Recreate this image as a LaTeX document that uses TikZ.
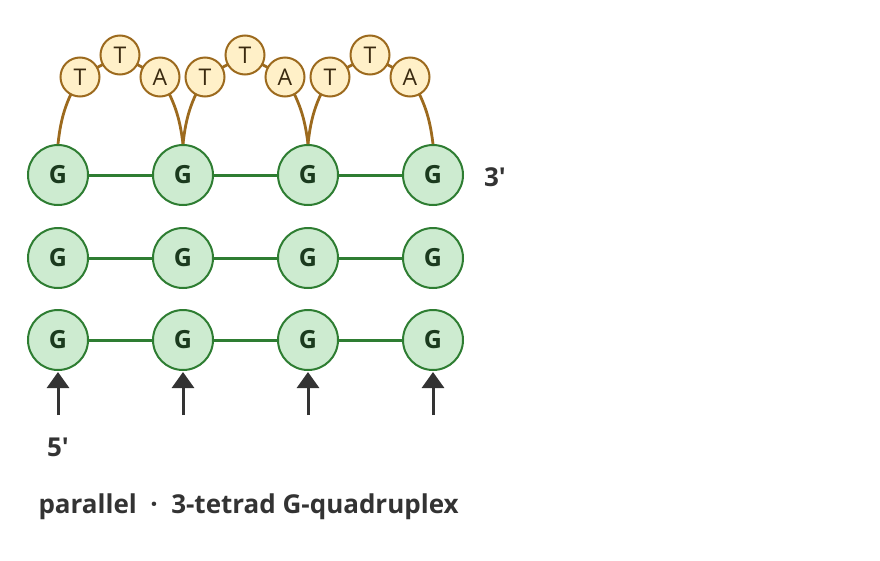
\documentclass[tikz,border=0pt]{standalone}
\usepackage{fontspec}
\setmainfont{Open Sans}
\usetikzlibrary{arrows.meta}
\definecolor{gfill}{HTML}{CDEBD0}
\definecolor{gline}{HTML}{2E7D32}
\definecolor{gtext}{HTML}{1B3A1E}
\definecolor{lfill}{HTML}{FFF0C8}
\definecolor{lline}{HTML}{9C6A1E}
\definecolor{ltext}{HTML}{3A2A10}
\definecolor{dk}{HTML}{333333}
\begin{document}
\begin{tikzpicture}[x=1pt,y=-1pt,
 gn/.style={circle,draw=gline,line width=2pt,fill=gfill,minimum size=60pt,inner sep=0pt,font=\fontsize{25}{25}\selectfont\bfseries,text=gtext},
 ln/.style={circle,draw=lline,line width=2pt,fill=lfill,minimum size=39pt,inner sep=0pt,font=\fontsize{23}{23}\selectfont,text=ltext},
 gl/.style={draw=gline,line width=3pt},
 ll/.style={draw=lline,line width=2.8pt},
 ar/.style={draw=dk,line width=3pt,-{Triangle[length=16pt,width=22pt]}},
 lab/.style={font=\fontsize{26}{26}\selectfont\bfseries,text=dk}]
\useasboundingbox (0,0) rectangle (880,560);
\foreach \r/\y in {a/175,b/258,c/340}{
 \foreach \i/\x in {1/58,2/183,3/308,4/433}{
  \node[gn] (g\r\i) at (\x,\y) {G};}
 \draw[gl] (g\r1) -- (g\r2) (g\r2) -- (g\r3) (g\r3) -- (g\r4);}
\draw[ll] (ga1.north) to[bend left=12] (80,77);
\draw[ll] (160,77) to[bend left=12] (ga2.north);
\draw[ll] (ga2.north) to[bend left=12] (205,77);
\draw[ll] (285,77) to[bend left=12] (ga3.north);
\draw[ll] (ga3.north) to[bend left=12] (330,77);
\draw[ll] (410,77) to[bend left=12] (ga4.north);
\draw[ll] (80,77) -- (120,55) -- (160,77);
\draw[ll] (205,77) -- (245,55) -- (285,77);
\draw[ll] (330,77) -- (370,55) -- (410,77);
\node[ln] (t1) at (80,77) {T};
\node[ln] (t2) at (120,55) {T};
\node[ln] (a1) at (160,77) {A};
\node[ln] (t3) at (205,77) {T};
\node[ln] (t4) at (245,55) {T};
\node[ln] (a2) at (285,77) {A};
\node[ln] (t5) at (330,77) {T};
\node[ln] (t6) at (370,55) {T};
\node[ln] (a3) at (410,77) {A};
\foreach \i/\x in {1/58,2/183,3/308,4/433}{
 \coordinate (s\i) at (\x,415);
 \draw[ar] (s\i) -- ([yshift=-1pt]gc\i.south);}
\node[lab] (p5) at (58,447) {5\textquotesingle};
\node[lab] (p3) at (495,177) {3\textquotesingle};
\node[lab,anchor=west] (cap) at (35,507) {parallel \ · \ 3-tetrad G-quadruplex};
\end{tikzpicture}
\end{document}
